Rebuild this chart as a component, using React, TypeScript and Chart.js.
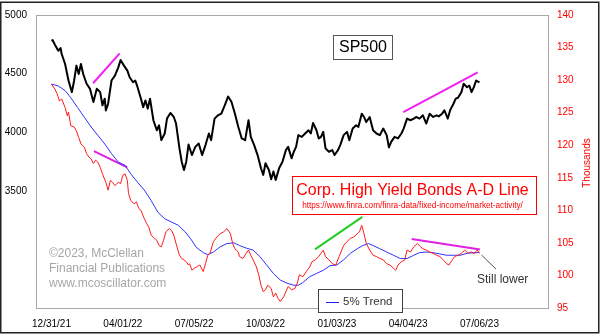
import React, { useEffect, useRef } from 'react';
import { Chart, registerables } from 'chart.js';

Chart.register(...registerables);

// ---- data (x = trading-day number counted from 12/31/21) ----
const tickDays = [0, 63, 126, 189, 252, 315, 378];
const tickLabels = ['12/31/21', '04/01/22', '07/05/22', '10/03/22', '01/03/23', '04/04/23', '07/06/23'];

const sp500: [number, number][] = [
  [0, 4780], [1, 4786], [3, 4746], [6, 4695], [8, 4718], [9, 4667], [12, 4582], [15, 4441], [18, 4342],
  [20, 4441], [22, 4568], [24, 4497], [26, 4582], [28, 4497], [31, 4413], [34, 4370], [37, 4257], [40, 4370],
  [43, 4342], [45, 4229], [47, 4286], [48, 4186], [50, 4243], [53, 4441], [56, 4483], [59, 4553], [61, 4616],
  [64, 4568], [67, 4525], [69, 4469], [72, 4426], [74, 4441], [76, 4384], [79, 4286], [81, 4214], [83, 4271],
  [85, 4201], [87, 4286], [90, 4102], [93, 4017], [95, 4059], [97, 3932], [100, 3989], [102, 4116], [105, 4164],
  [108, 4130], [110, 4074], [113, 3862], [115, 3748], [117, 3678], [119, 3748], [121, 3895], [124, 3805],
  [127, 3875], [130, 3904], [133, 3805], [136, 3890], [139, 3989], [141, 3932], [144, 4116], [147, 4144],
  [150, 4158], [153, 4229], [156, 4305], [159, 4257], [162, 4158], [165, 4045], [168, 3947], [171, 3932],
  [174, 4102], [176, 3960], [179, 3890], [182, 3805], [185, 3692], [187, 3636], [189, 3735], [192, 3678],
  [194, 3599], [196, 3664], [198, 3593], [201, 3692], [204, 3748], [207, 3847], [209, 3875], [212, 3777],
  [214, 3833], [216, 3875], [218, 3975], [221, 3960], [224, 3989], [227, 4017], [229, 3989], [231, 4079],
  [234, 4017], [236, 3947], [238, 3960], [240, 4003], [242, 3862], [245, 3833], [248, 3847], [250, 3805],
  [253, 3847], [255, 3890], [258, 3975], [261, 4003], [263, 3932], [266, 4031], [269, 4059], [271, 4045],
  [274, 4158], [276, 4130], [278, 4087], [281, 4130], [284, 4017], [287, 3989], [290, 3975], [293, 4031],
  [296, 3975], [298, 3870], [300, 3918], [303, 3960], [306, 3947], [309, 3989], [311, 4031], [314, 4116],
  [317, 4102], [320, 4116], [322, 4130], [325, 4116], [328, 4144], [331, 4074], [334, 4158], [337, 4130],
  [340, 4144], [342, 4135], [345, 4158], [347, 4186], [350, 4116], [352, 4186], [355, 4243], [357, 4286],
  [359, 4294], [362, 4342], [364, 4413], [367, 4384], [369, 4398], [371, 4342], [373, 4384], [375, 4441],
  [378, 4426],
];

const adLine: [number, number][] = [
  [0, 129.4], [3, 128.6], [5, 127.9], [7, 126.8], [9, 127.1], [12, 125.8], [14, 124.5], [15, 125.1], [17, 123.0],
  [20, 122.8], [22, 122.2], [24, 121.2], [26, 120.2], [29, 119.7], [31, 118.7], [33, 118.2], [35, 117.9],
  [37, 117.2], [39, 117.7], [41, 117.4], [43, 116.6], [45, 115.6], [48, 114.3], [50, 113.1], [52, 114.6],
  [54, 114.3], [56, 113.8], [59, 114.3], [61, 114.1], [63, 115.4], [65, 115.6], [67, 114.6], [68, 112.6],
  [70, 111.5], [73, 111.0], [75, 111.3], [77, 110.3], [79, 110.0], [82, 108.7], [84, 108.0], [86, 107.4],
  [88, 106.2], [91, 105.7], [93, 105.4], [95, 104.6], [97, 104.4], [99, 105.4], [101, 106.7], [104, 107.2],
  [106, 106.9], [108, 106.2], [110, 104.9], [113, 103.1], [115, 102.6], [117, 102.4], [119, 102.1], [121, 101.6],
  [122, 101.8], [124, 100.8], [126, 101.1], [128, 101.3], [131, 101.6], [134, 100.6], [136, 101.8], [138, 103.1],
  [140, 103.4], [143, 105.2], [146, 105.9], [149, 106.4], [152, 106.7], [155, 107.2], [158, 106.4], [160, 104.9],
  [162, 104.1], [165, 103.6], [166, 102.9], [169, 102.6], [172, 103.4], [174, 103.9], [176, 103.1], [178, 102.4],
  [181, 101.3], [183, 100.1], [185, 98.5], [187, 97.5], [189, 97.8], [191, 98.5], [194, 98.0], [196, 96.7],
  [198, 97.3], [200, 96.5], [202, 96.0], [205, 96.7], [207, 97.5], [209, 98.3], [212, 97.8], [215, 98.0],
  [217, 98.8], [219, 100.1], [222, 99.8], [225, 100.6], [228, 101.3], [230, 102.1], [233, 102.4], [236, 102.9],
  [238, 103.4], [240, 103.9], [242, 102.9], [245, 102.4], [248, 101.8], [251, 101.6], [254, 102.9], [258, 104.6],
  [261, 105.2], [264, 105.7], [267, 105.9], [270, 106.4], [272, 106.7], [274, 107.7], [276, 106.4], [278, 104.9],
  [281, 103.9], [284, 103.1], [287, 102.9], [290, 102.6], [293, 102.4], [296, 101.8], [299, 101.6], [302, 101.1],
  [304, 100.8], [306, 101.6], [309, 102.1], [312, 102.4], [314, 103.9], [317, 103.6], [320, 104.4], [323, 104.9],
  [326, 104.4], [328, 104.1], [331, 103.9], [334, 103.6], [337, 103.4], [340, 103.1], [343, 102.9], [346, 102.4],
  [349, 101.8], [351, 101.6], [354, 102.4], [356, 102.9], [359, 103.1], [362, 103.4], [365, 103.9], [368, 103.4],
  [371, 103.6], [373, 103.3], [376, 103.9], [378, 103.4],
];

const trend5: [number, number][] = [
  [0, 129.4], [6, 129.1], [12, 128.4], [17, 127.3], [23, 125.8], [29, 124.3], [35, 122.8], [41, 121.5],
  [47, 120.2], [53, 118.7], [59, 117.4], [65, 116.9], [70, 115.6], [76, 114.3], [82, 113.1], [88, 111.5],
  [94, 109.7], [100, 108.7], [106, 108.2], [112, 107.7], [118, 106.7], [123, 105.6], [128, 104.3], [134, 103.5],
  [138, 103.2], [143, 103.6], [149, 104.4], [155, 104.9], [161, 105.0], [166, 104.6], [172, 104.2], [178, 103.9],
  [184, 102.9], [190, 101.6], [196, 100.3], [202, 99.3], [208, 98.8], [214, 98.5], [218, 98.5], [222, 98.9],
  [228, 99.8], [234, 100.3], [240, 100.8], [246, 101.5], [252, 101.6], [258, 102.4], [264, 103.4], [270, 104.1],
  [275, 104.6], [280, 104.9], [284, 104.6], [290, 104.1], [296, 103.6], [302, 103.1], [308, 102.6], [314, 102.6],
  [320, 103.1], [325, 103.5], [331, 103.6], [337, 103.5], [343, 103.3], [349, 103.1], [355, 103.1], [361, 103.1],
  [367, 103.4], [373, 103.5], [378, 103.5],
];

// hand-drawn trend annotations (start/end in data units)
const spLineEarly: [number, number][] = [[36.7, 4418], [60.2, 4672]];
const spLineLate: [number, number][] = [[310.7, 4172], [376.4, 4511]];
const adLineEarly: [number, number][] = [[37.5, 119.1], [66.9, 116.6]];
const adLineGreen: [number, number][] = [[232.7, 104.0], [274.5, 109.0]];
const adLineLate: [number, number][] = [[318.1, 105.6], [378.4, 104.0]];

const FONT = '"Liberation Sans", Arial, Helvetica, sans-serif';

const pts = (arr: [number, number][]) => arr.map(([x, y]) => ({ x, y }));

const decor = {
  id: 'decor',
  beforeDraw(chart: any) {
    const { ctx, chartArea: a } = chart;
    ctx.save();
    ctx.fillStyle = '#ffffff';
    ctx.fillRect(0, 0, chart.width, chart.height);
    ctx.strokeStyle = '#a8a8a8';
    ctx.lineWidth = 1;
    ctx.strokeRect(Math.round(a.left) + 0.5, Math.round(a.top) + 0.5, Math.round(a.right - a.left), Math.round(a.bottom - a.top));
    // copyright
    ctx.fillStyle = '#a6a6a6';
    ctx.font = `12px ${FONT}`;
    ctx.textAlign = 'left';
    ctx.textBaseline = 'middle';
    ctx.fillText('©2023, McClellan', 49, 254);
    ctx.fillText('Financial Publications', 49, 269);
    ctx.fillText('www.mcoscillator.com', 49, 284);
    ctx.restore();
  },
  afterDatasetsDraw(chart: any) {
    const { ctx } = chart;
    ctx.save();
    // SP500 box
    ctx.fillStyle = '#ffffff';
    ctx.fillRect(333.5, 35.5, 59, 24);
    ctx.strokeStyle = '#555555';
    ctx.lineWidth = 1;
    ctx.strokeRect(333.5, 35.5, 59, 24);
    ctx.fillStyle = '#000000';
    ctx.font = `16px ${FONT}`;
    ctx.textAlign = 'center';
    ctx.textBaseline = 'middle';
    ctx.fillText('SP500', 363, 48);

    // Corp box
    ctx.fillStyle = '#ffffff';
    ctx.fillRect(292.5, 176.5, 244, 38);
    ctx.strokeStyle = '#ff0000';
    ctx.strokeRect(292.5, 176.5, 244, 38);
    ctx.fillStyle = '#ff0000';
    ctx.font = `16px ${FONT}`;
    ctx.fillText('Corp. High Yield Bonds A-D Line', 412.5, 190.5);
    ctx.font = `8.2px ${FONT}`;
    ctx.fillText('https://www.finra.com/finra-data/fixed-income/market-activity/', 412.5, 205.5);

    // legend box
    ctx.fillStyle = '#ffffff';
    ctx.fillRect(318.5, 289.5, 84, 23);
    ctx.strokeStyle = '#404040';
    ctx.strokeRect(318.5, 289.5, 84, 23);
    ctx.strokeStyle = '#2020ff';
    ctx.beginPath();
    ctx.moveTo(326, 302.5);
    ctx.lineTo(339, 302.5);
    ctx.stroke();
    ctx.fillStyle = '#333333';
    ctx.font = `11.5px ${FONT}`;
    ctx.textAlign = 'left';
    ctx.fillText('5% Trend', 343, 302);

    // Still lower
    ctx.strokeStyle = '#555555';
    ctx.beginPath();
    ctx.moveTo(481.5, 255);
    ctx.lineTo(496, 269);
    ctx.stroke();
    ctx.fillStyle = '#333333';
    ctx.font = `12px ${FONT}`;
    ctx.fillText('Still lower', 477, 279.5);

    // Thousands
    ctx.save();
    ctx.translate(587, 163);
    ctx.rotate(-Math.PI / 2);
    ctx.fillStyle = '#ff0000';
    ctx.font = `10px ${FONT}`;
    ctx.textAlign = 'center';
    ctx.fillText('Thousands', 0, 0);
    ctx.restore();

    // outer frame
    ctx.strokeStyle = '#222222';
    ctx.lineWidth = 1.5;
    ctx.strokeRect(0.75, 2.25, 598, 330.5);
    ctx.restore();
  },
};

export default function App() {
  const ref = useRef<HTMLCanvasElement>(null);
  useEffect(() => {
    document.body.style.margin = '0';
    const tickFont = { family: FONT, size: 10 };
    const chart = new Chart(ref.current as HTMLCanvasElement, {
      type: 'line',
      data: {
        datasets: [
          { data: pts(adLine), yAxisID: 'yR', borderColor: '#ff1a1a', borderWidth: 1 },
          { data: pts(trend5), yAxisID: 'yR', borderColor: '#3030ff', borderWidth: 1 },
          { data: pts(sp500), yAxisID: 'yL', borderColor: '#000000', borderWidth: 2 },
          { data: pts(spLineEarly), yAxisID: 'yL', borderColor: '#f020f0', borderWidth: 2 },
          { data: pts(spLineLate), yAxisID: 'yL', borderColor: '#f020f0', borderWidth: 2 },
          { data: pts(adLineEarly), yAxisID: 'yR', borderColor: '#e020e0', borderWidth: 2 },
          { data: pts(adLineGreen), yAxisID: 'yR', borderColor: '#22cc22', borderWidth: 2 },
          { data: pts(adLineLate), yAxisID: 'yR', borderColor: '#e020e0', borderWidth: 2 },
        ] as any,
      },
      options: {
        animation: false,
        responsive: false,
        devicePixelRatio: 1,
        layout: { padding: { top: 14, left: 0, right: 0, bottom: 0 } },
        plugins: { legend: { display: false }, tooltip: { enabled: false } },
        elements: { point: { radius: 0 }, line: { tension: 0, borderJoinStyle: 'round' as any } },
        scales: {
          x: {
            type: 'linear',
            min: -13.69,
            max: 438.49,
            grid: { display: false, drawTicks: false },
            border: { display: false },
            afterBuildTicks: (s: any) => {
              s.ticks = tickDays.map((v) => ({ value: v }));
            },
            afterFit: (s: any) => {
              s.height = 28;
            },
            ticks: {
              autoSkip: false,
              maxRotation: 0,
              padding: 10,
              color: '#000000',
              font: tickFont,
              callback: (v: any) => {
                const i = tickDays.indexOf(Number(v));
                return i >= 0 ? tickLabels[i] : '';
              },
            },
          },
          yL: {
            position: 'left',
            min: 2500,
            max: 5000,
            grid: { display: false, drawTicks: false },
            border: { display: false },
            afterFit: (s: any) => {
              s.width = 36;
            },
            ticks: {
              stepSize: 500,
              padding: 9,
              color: '#000000',
              font: tickFont,
              callback: (v: any) => (Number(v) >= 3500 ? String(v) : ''),
            },
          },
          yR: {
            position: 'right',
            min: 95,
            max: 140,
            grid: { display: false, drawTicks: false },
            border: { display: false },
            afterFit: (s: any) => {
              s.width = 52;
            },
            ticks: { stepSize: 5, padding: 9, color: '#ff0000', font: tickFont },
          },
        },
      } as any,
      plugins: [decor],
    });
    return () => chart.destroy();
  }, []);
  return (
    <div style={{ position: 'absolute', left: 0, top: 0, width: 600, height: 336 }}>
      <canvas ref={ref} width={600} height={336} style={{ display: 'block', width: 600, height: 336 }} />
    </div>
  );
}
